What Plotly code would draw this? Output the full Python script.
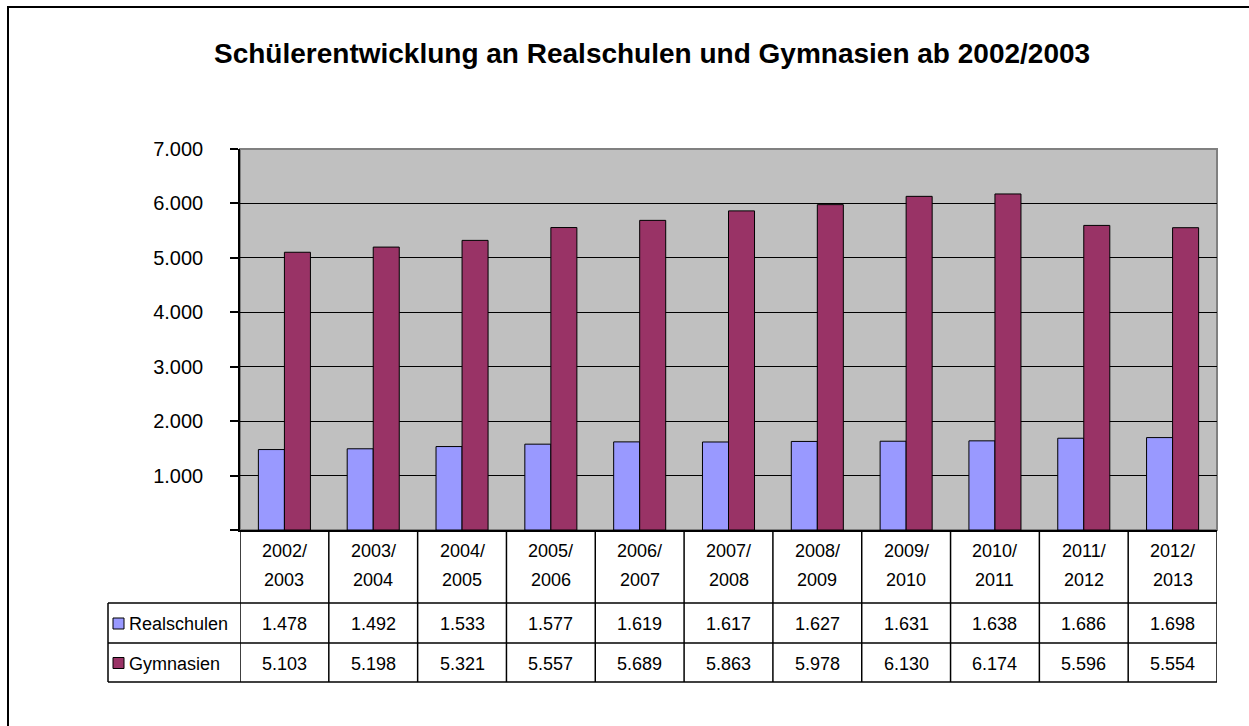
import plotly.graph_objects as go

# ---------------- data ----------------
categories = ["2002/2003", "2003/2004", "2004/2005", "2005/2006", "2006/2007",
              "2007/2008", "2008/2009", "2009/2010", "2010/2011", "2011/2012", "2012/2013"]
realschulen = [1478, 1492, 1533, 1577, 1619, 1617, 1627, 1631, 1638, 1686, 1698]
gymnasien = [5103, 5198, 5321, 5557, 5689, 5863, 5978, 6130, 6174, 5596, 5554]
series_names = ["Realschulen", "Gymnasien"]
series_colors = ["#9999FF", "#993366"]
y_ticks = [0, 1000, 2000, 3000, 4000, 5000, 6000, 7000]
title = "Schülerentwicklung an Realschulen und Gymnasien ab 2002/2003"

# ---------------- geometry (pixels) ----------------
W, H = 1249, 726
PL, PR, PT, PB = 240, 1217, 149, 530
FONT = "Liberation Sans, Arial, sans-serif"


def de(v):
    return f"{v:,}".replace(",", ".")


def px_x(px):
    return (px - PL) / (PR - PL)


def px_y(py):
    return (PB - py) / (PB - PT)


idx = list(range(len(categories)))
fig = go.Figure()
for name, vals, col in zip(series_names, [realschulen, gymnasien], series_colors):
    fig.add_bar(x=idx, y=vals, name=name, marker=dict(color=col, line=dict(color="black", width=1)))

shapes = []
annotations = []

# outer chart border (extends past window right/bottom)
shapes.append(dict(type="rect", xref="paper", yref="paper",
                   x0=px_x(8), x1=px_x(W + 20), y0=px_y(H + 20), y1=px_y(7),
                   line=dict(color="black", width=2), fillcolor="rgba(0,0,0,0)", layer="below"))

# plot area gray border (top/right)
shapes.append(dict(type="rect", xref="paper", yref="paper", x0=0, x1=1, y0=0, y1=1,
                   line=dict(color="#808080", width=2), layer="below"))

# table geometry
ROW_TOP = PB
ROW_H1 = 603
ROW_H2 = 643
ROW_BOT = 682
LEFT = 108
line_style = dict(color="black", width=1.5)

for yy in [ROW_H1, ROW_H2, ROW_BOT]:
    shapes.append(dict(type="line", xref="paper", yref="paper", x0=px_x(LEFT), x1=1,
                       y0=px_y(yy), y1=px_y(yy), line=line_style))
for i in range(len(categories) + 1):
    shapes.append(dict(type="line", xref="x", yref="paper", x0=i - 0.5, x1=i - 0.5,
                       y0=px_y(ROW_TOP), y1=px_y(ROW_BOT), line=line_style))
shapes.append(dict(type="line", xref="paper", yref="paper", x0=px_x(LEFT), x1=px_x(LEFT),
                   y0=px_y(ROW_H1), y1=px_y(ROW_BOT), line=line_style))

# header labels (two lines)
for i, c in enumerate(categories):
    a, b = c.split("/")
    annotations.append(dict(x=i, y=px_y(551), xref="x", yref="paper", text=a + "/", showarrow=False,
                            font=dict(size=18, family=FONT, color="black"), xanchor="center", yanchor="middle"))
    annotations.append(dict(x=i, y=px_y(580), xref="x", yref="paper", text=b, showarrow=False,
                            font=dict(size=18, family=FONT, color="black"), xanchor="center", yanchor="middle"))

# data rows
row_centers = [(ROW_H1 + ROW_H2) / 2, (ROW_H2 + ROW_BOT) / 2]
for name, vals, col, yc in zip(series_names, [realschulen, gymnasien], series_colors, row_centers):
    for i, v in enumerate(vals):
        annotations.append(dict(x=i, y=px_y(yc + 1), xref="x", yref="paper", text=de(v), showarrow=False,
                                font=dict(size=18, family=FONT, color="black"), xanchor="center", yanchor="middle"))
    shapes.append(dict(type="rect", xref="paper", yref="paper", x0=px_x(113), x1=px_x(124),
                       y0=px_y(yc + 6), y1=px_y(yc - 5), fillcolor=col, line=dict(color="black", width=1)))
    annotations.append(dict(x=px_x(127), y=px_y(yc + 1), xref="paper", yref="paper", text=name, showarrow=False,
                            font=dict(size=18, family=FONT, color="black"), xanchor="left", yanchor="middle"))

# title
annotations.append(dict(x=px_x(652), y=px_y(53), xref="paper", yref="paper", text="<b>" + title + "</b>",
                        showarrow=False, font=dict(size=28, family=FONT, color="black"),
                        xanchor="center", yanchor="middle"))

fig.update_layout(
    width=W, height=H,
    margin=dict(l=PL, r=W - PR, t=PT, b=H - PB, pad=0),
    paper_bgcolor="white", plot_bgcolor="#C0C0C0",
    barmode="group", bargap=0.414, bargroupgap=0,
    showlegend=False,
    font=dict(family=FONT, size=18, color="black"),
    shapes=shapes, annotations=annotations,
)
fig.update_xaxes(range=[-0.5, len(categories) - 0.5], showticklabels=False, ticks="",
                 showgrid=False, zeroline=False, showline=True, linecolor="black", linewidth=1.5)
fig.update_yaxes(range=[0, 7000], tickvals=y_ticks,
                 ticktext=["" if v == 0 else de(v) for v in y_ticks],
                 ticks="outside", ticklen=8, tickcolor="black", tickwidth=1.5,
                 ticklabelstandoff=23,
                 tickfont=dict(size=20, family=FONT, color="black"),
                 showgrid=True, gridcolor="black", gridwidth=1.2,
                 zeroline=False, showline=True, linecolor="black", linewidth=1.5)

fig.write_html("out.html", config={"displayModeBar": False},
               post_script="document.body.style.margin='0';document.body.style.overflow='hidden';")
